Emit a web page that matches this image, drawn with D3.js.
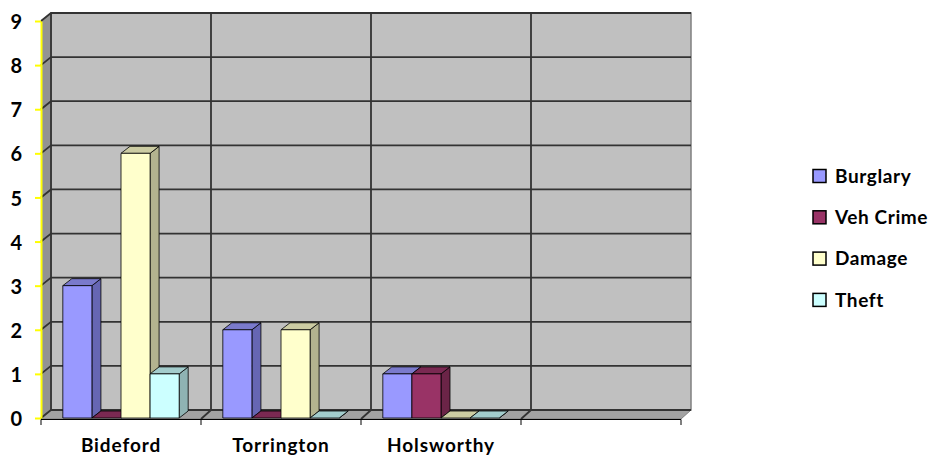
<!DOCTYPE html>
<html>
<head>
<meta charset="utf-8">
<script src="https://cdn.jsdelivr.net/npm/d3@7"></script>
<style>
body { margin: 0; background: #fff; }
text { font-family: Lato, "Open Sans", sans-serif; font-weight: 700; fill: #000; }
</style>
</head>
<body>
<div id="chart"></div>
<script>
// data --------------------------------------------------------------
var categories = ["Bideford", "Torrington", "Holsworthy", ""];
var seriesNames = ["Burglary", "Veh Crime", "Damage", "Theft"];
var burglary = [3, 2, 1, null];
var vehCrime = [0, 0, 1, null];
var damage = [6, 2, 0, null];
var theft = [1, 0, 0, null];
var yTicks = [0, 1, 2, 3, 4, 5, 6, 7, 8, 9];

// colours: front / side / top
var seriesColors = {
  "Burglary":  ["#9999ff", "#6666b3", "#7a7acc"],
  "Veh Crime": ["#993366", "#6b2447", "#7a2952"],
  "Damage":    ["#ffffcc", "#b3b38f", "#ccccA3"],
  "Theft":     ["#ccffff", "#8fb3b3", "#a3cccc"]
};

// settings ----------------------------------------------------------
var svgScreen = { width: 939, height: 457 };
var plot = { left: 41, right: 681, top: 21, bottom: 418 };
var wall = { dx: 10, dy: -8 };
var bar = { dx: 9, dy: -7 };

var svg = d3.select("#chart").append("svg")
  .attr("width", svgScreen.width)
  .attr("height", svgScreen.height);

var yScale = d3.scaleLinear().domain([0, 9]).range([plot.bottom, plot.top]);
var xScale = d3.scaleBand().domain(categories).range([plot.left, plot.right]);
var xInner = d3.scaleBand().domain(seriesNames).range([0, xScale.bandwidth()]).paddingOuter(0.75);

var poly = function(pts) { return pts.map(function(p) { return p.join(","); }).join(" "); };

// walls -------------------------------------------------------------
var y0 = yScale(0), y9 = yScale(9);
svg.append("polygon") // back wall
  .attr("points", poly([[plot.left + wall.dx, y9 + wall.dy], [plot.right + wall.dx, y9 + wall.dy],
                        [plot.right + wall.dx, y0 + wall.dy], [plot.left + wall.dx, y0 + wall.dy]]))
  .attr("fill", "#c0c0c0").attr("stroke", "#808080").attr("stroke-width", 1.5);
svg.append("polygon") // side wall
  .attr("points", poly([[plot.left, y9], [plot.left + wall.dx, y9 + wall.dy],
                        [plot.left + wall.dx, y0 + wall.dy], [plot.left, y0]]))
  .attr("fill", "#939393");
svg.append("polygon") // floor
  .attr("points", poly([[plot.left, y0 + 1], [plot.right, y0 + 1],
                        [plot.right + wall.dx, y0 + wall.dy], [plot.left + wall.dx, y0 + wall.dy]]))
  .attr("fill", "#a2a2a2").attr("stroke", "#808080").attr("stroke-width", 1);

// gridlines
var grid = svg.append("g").attr("class", "grid")
  .attr("stroke", "#333").attr("stroke-width", 1.8).attr("fill", "none");
yTicks.forEach(function(t) {
  var yy = yScale(t);
  grid.append("polyline")
    .attr("points", poly([[plot.left, yy], [plot.left + wall.dx, yy + wall.dy], [plot.right + wall.dx, yy + wall.dy]]));
});
categories.slice(1).forEach(function(c) {
  var xx = xScale(c);
  grid.append("polyline")
    .attr("points", poly([[xx, y0 + 1], [xx + wall.dx, y0 + wall.dy], [xx + wall.dx, y9 + wall.dy]]));
});
grid.append("line")
  .attr("x1", plot.left + wall.dx).attr("x2", plot.left + wall.dx)
  .attr("y1", y0 + wall.dy).attr("y2", y9 + wall.dy);

// axes --------------------------------------------------------------
var yAxis = d3.axisLeft(yScale).tickValues(yTicks).tickSize(6).tickSizeOuter(0).tickPadding(13);
var yG = svg.append("g").attr("transform", "translate(" + plot.left + ",0)").call(yAxis);
yG.selectAll("path, line").attr("stroke", "#ffff00").attr("stroke-width", 2);
yG.selectAll("text").attr("font-size", 20).attr("fill", "#000").attr("dy", "0.38em");

svg.append("line")
  .attr("x1", plot.left).attr("x2", plot.right)
  .attr("y1", y0 + 1.5).attr("y2", y0 + 1.5)
  .attr("stroke", "#000").attr("stroke-width", 1);
categories.concat(["end"]).forEach(function(c, i) {
  var xx = i < categories.length ? xScale(c) : plot.right;
  svg.append("line")
    .attr("x1", xx).attr("x2", xx).attr("y1", y0 + 1.5).attr("y2", y0 + 7)
    .attr("stroke", "#000").attr("stroke-width", 1);
});
var xAxis = d3.axisBottom(xScale).tickSize(0).tickPadding(0);
var xG = svg.append("g").call(xAxis);
xG.select(".domain").remove();
xG.selectAll("text").attr("font-size", 19).attr("y", 452).attr("dy", null)
  .attr("letter-spacing", "0.9px").attr("fill", "#000");

// bars --------------------------------------------------------------
var seriesValues = [burglary, vehCrime, damage, theft];
var barsG = svg.append("g").attr("class", "bars")
  .attr("stroke", "#000").attr("stroke-width", 0.8).attr("stroke-linejoin", "round");
categories.forEach(function(c, ci) {
  seriesNames.forEach(function(s, si) {
    var v = seriesValues[si][ci];
    if (v === null) return;
    var x1 = xScale(c) + xInner(s), x2 = x1 + xInner.bandwidth();
    var yt = yScale(v), yb = yScale(0);
    var col = seriesColors[s];
    barsG.append("polygon") // side
      .attr("points", poly([[x2, yb], [x2 + bar.dx, yb + bar.dy], [x2 + bar.dx, yt + bar.dy], [x2, yt]]))
      .attr("fill", col[1]);
    barsG.append("polygon") // top
      .attr("points", poly([[x1, yt], [x2, yt], [x2 + bar.dx, yt + bar.dy], [x1 + bar.dx, yt + bar.dy]]))
      .attr("fill", col[2]);
    if (v > 0) {
      barsG.append("rect") // front
        .attr("x", x1).attr("y", yt).attr("width", x2 - x1).attr("height", yb - yt)
        .attr("fill", col[0]);
    }
  });
});

// legend ------------------------------------------------------------
var legend = svg.append("g").attr("class", "legend");
seriesNames.forEach(function(s, i) {
  var ly = 176 + i * 41.3;
  legend.append("rect")
    .attr("x", 813).attr("y", ly - 6.5).attr("width", 13).attr("height", 13)
    .attr("fill", seriesColors[s][0]).attr("stroke", "#000").attr("stroke-width", 1.5);
  legend.append("text")
    .attr("x", 835).attr("y", ly).attr("dy", "0.36em")
    .attr("font-size", 19).attr("letter-spacing", "0.6px").text(s);
});
</script>
</body>
</html>
